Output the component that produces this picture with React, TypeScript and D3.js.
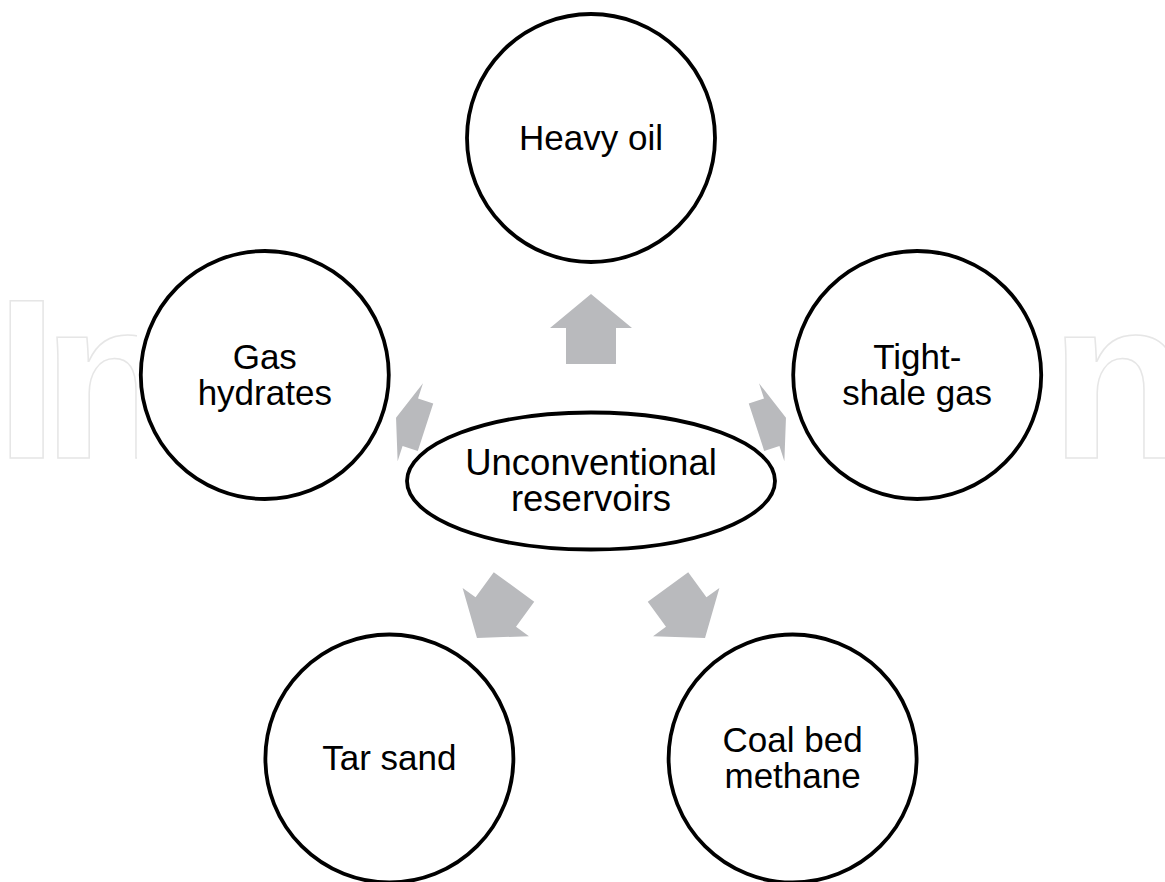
import React, { useEffect, useRef } from 'react';
import * as d3 from 'd3';

const WIDTH = 1165;
const HEIGHT = 882;

const centerLabel = ['Unconventional', 'reservoirs'];

const nodeLabels: string[][] = [
  ['Heavy oil'],
  ['Tight-', 'shale gas'],
  ['Coal bed', 'methane'],
  ['Tar sand'],
  ['Gas', 'hydrates'],
];
const nodeAngles = [0, 72, 144, 216, 288];

// arrow geometry along each spoke (distance from hub): tip, shoulder, base
const arrowTip = [187, 205, 194, 194, 205];
const arrowShoulder = [153, 190, 162, 162, 190];
const arrowBase = [117, 174, 131, 131, 174];

// the only visible glyphs of the outlined watermark, with their left edges
const watermarkGlyphs = ['I', 'n', 'n'];
const watermarkX = [-5, 42, 1050];

const App: React.FC = () => {
  const ref = useRef<SVGSVGElement>(null);

  useEffect(() => {
    if (!ref.current) return;
    const svg = d3.select(ref.current);
    svg.selectAll('*').remove();

    const cx = 591;
    const cy = 481;
    const spoke = 343;
    const nodeR = 124;
    const font = "'Liberation Sans', Arial, sans-serif";

    svg.append('rect').attr('width', WIDTH).attr('height', HEIGHT).attr('fill', '#fff');

    // faint outlined watermark behind the figure
    watermarkGlyphs.forEach((g, i) => {
      svg
        .append('text')
        .attr('x', watermarkX[i])
        .attr('y', 458)
        .style('font-family', font)
        .style('font-weight', 'bold')
        .style('font-size', '228px')
        .attr('fill', '#fff')
        .attr('stroke', '#e6e6e6')
        .attr('stroke-width', 1.5)
        .text(g);
    });

    // the figure's own white background hides the middle of the watermark
    svg.append('rect').attr('x', 137).attr('y', 0).attr('width', 907).attr('height', HEIGHT).attr('fill', '#fff');

    const line = d3.line().curve(d3.curveLinearClosed);
    const toXY = (a: number, u: number, v: number): [number, number] => {
      const [dx, dy] = d3.pointRadial(a, u);
      const [nx, ny] = d3.pointRadial(a + Math.PI / 2, v);
      return [cx + dx + nx, cy + dy + ny];
    };

    const headHalf = 41;
    const shaftHalf = 25;
    nodeAngles.forEach((deg, i) => {
      const a = (deg * Math.PI) / 180;
      const pts: [number, number][] = [
        toXY(a, arrowTip[i], 0),
        toXY(a, arrowShoulder[i], headHalf),
        toXY(a, arrowShoulder[i], shaftHalf),
        toXY(a, arrowBase[i], shaftHalf),
        toXY(a, arrowBase[i], -shaftHalf),
        toXY(a, arrowShoulder[i], -shaftHalf),
        toXY(a, arrowShoulder[i], -headHalf),
      ];
      svg.append('path').attr('d', line(pts)).attr('fill', '#b9babd');
    });

    const addLines = (g: d3.Selection<SVGGElement, unknown, null, undefined>, lines: string[], x: number, y: number, size: number, step: number) => {
      lines.forEach((t, j) => {
        g.append('text')
          .attr('x', x)
          .attr('y', y + 12 + (j - (lines.length - 1) / 2) * step)
          .attr('text-anchor', 'middle')
          .style('font-family', font)
          .style('font-size', `${size}px`)
          .attr('fill', '#000')
          .text(t);
      });
    };

    const nodes = svg.append('g');
    nodeAngles.forEach((deg, i) => {
      const [px, py] = d3.pointRadial((deg * Math.PI) / 180, spoke);
      const x = cx + px;
      const y = cy + py;
      nodes
        .append('circle')
        .attr('cx', x)
        .attr('cy', y)
        .attr('r', nodeR)
        .attr('fill', '#fff')
        .attr('stroke', '#000')
        .attr('stroke-width', 3.8);
      addLines(nodes, nodeLabels[i], x, y, 35, 36);
    });

    const hub = svg.append('g');
    hub
      .append('ellipse')
      .attr('cx', cx)
      .attr('cy', cy)
      .attr('rx', 184)
      .attr('ry', 68.5)
      .attr('fill', '#fff')
      .attr('stroke', '#000')
      .attr('stroke-width', 3.8);
    addLines(hub, centerLabel, cx, cy, 36.5, 36.5);
  }, []);

  return (
    <svg
      ref={ref}
      width={WIDTH}
      height={HEIGHT}
      style={{ position: 'absolute', left: 0, top: 0, display: 'block' }}
    />
  );
};

export default App;
